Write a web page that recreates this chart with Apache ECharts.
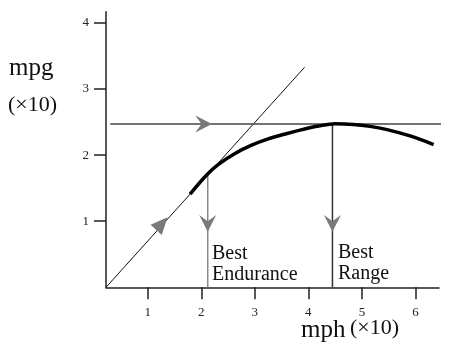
<!DOCTYPE html>
<html>
<head>
<meta charset="utf-8">
<script src="https://cdn.jsdelivr.net/npm/echarts@6/dist/echarts.min.js"></script>
<style>html,body{margin:0;padding:0;background:#fff;}#c{width:465px;height:345px;}</style>
</head>
<body>
<div id="c"></div>
<script>
// ---- data ----
const xTicks = [1, 2, 3, 4, 5, 6];
const yTicks = [1, 2, 3, 4];
const curveX = [1.79, 2.10, 2.32, 2.63, 2.94, 3.25, 3.57, 3.88, 4.19, 4.50, 4.84, 5.15, 5.47, 5.90, 6.34];
const curveY = [1.41, 1.70, 1.86, 2.025, 2.15, 2.245, 2.32, 2.385, 2.44, 2.475, 2.465, 2.435, 2.385, 2.29, 2.16];
const tangentX = [0.22, 3.93];
const tangentY = [0, 3.33];
const maxMpg = 2.47;
const maxLineX = [0.30, 6.93];
const enduranceX = 2.12;
const enduranceY = 1.72;
const rangeX = 4.45;
const downArrowX = [2.12, 4.45];
const downArrowY = [0.84, 0.84];
const rightArrowX = [2.20];
const upArrowX = [1.37];
const upArrowY = [1.06];

const FONT = '"Liberation Serif", "DejaVu Serif", serif';
const ARROW = '#7a7a7a';

const zip = (a, b) => a.map((v, i) => [v, b[i]]);

function arrowSeries(data, shape) {
  return {
    type: 'custom', silent: true, clip: false, z: 5,
    data: data,
    renderItem: function (params, api) {
      const p = api.coord([api.value(0), api.value(1)]);
      let pts;
      if (shape === 'along') {
        const a = api.coord([tangentX[0], tangentY[0]]);
        const b = api.coord([tangentX[1], tangentY[1]]);
        const L = Math.hypot(b[0] - a[0], b[1] - a[1]);
        const dx = (b[0] - a[0]) / L, dy = (b[1] - a[1]) / L;
        const len = 17, hw = 7.5;
        const bx = p[0] - dx * len, by = p[1] - dy * len;
        pts = [[p[0], p[1]], [bx - dy * hw, by + dx * hw], [bx + dy * hw, by - dx * hw]];
      } else if (shape === 'down') {
        pts = [[p[0], p[1]], [p[0] - 8.5, p[1] - 16.7], [p[0], p[1] - 10.5], [p[0] + 8.5, p[1] - 16.7]];
      } else {
        pts = [[p[0], p[1]], [p[0] - 16.7, p[1] - 8.5], [p[0] - 10.5, p[1]], [p[0] - 16.7, p[1] + 8.5]];
      }
      return { type: 'polygon', shape: { points: pts }, style: { fill: ARROW } };
    }
  };
}

const chart = echarts.init(document.getElementById('c'), null, { renderer: 'canvas' });
chart.setOption({
  animation: false,
  backgroundColor: '#fff',
  grid: { left: 106, right: 26, top: 11.7, bottom: 57.7, containLabel: false, outerBoundsMode: 'none' },
  xAxis: {
    type: 'value', min: 0.22, max: 6.44,
    axisLine: { show: true, lineStyle: { color: '#222', width: 1.5 } },
    axisTick: { show: true, customValues: xTicks, length: 12, lineStyle: { color: '#222', width: 1.5 } },
    axisLabel: { customValues: xTicks, margin: 19, color: '#222', fontFamily: FONT, fontSize: 13 },
    splitLine: { show: false }
  },
  yAxis: {
    type: 'value', min: 0, max: 4.17,
    axisLine: { show: true, lineStyle: { color: '#222', width: 1.5 } },
    axisTick: { show: true, customValues: yTicks, length: 12, lineStyle: { color: '#222', width: 1.5 } },
    axisLabel: { customValues: yTicks, margin: 17, color: '#222', fontFamily: FONT, fontSize: 13 },
    splitLine: { show: false }
  },
  series: [
    { type: 'line', data: zip(tangentX, tangentY), symbol: 'none', clip: false,
      lineStyle: { color: '#111', width: 1 } },
    { type: 'line', data: zip(maxLineX, [maxMpg, maxMpg]), symbol: 'none', clip: false,
      lineStyle: { color: '#444', width: 1.5 } },
    { type: 'line', data: [[enduranceX, enduranceY], [enduranceX, 0]], symbol: 'none',
      lineStyle: { color: '#888', width: 1.5 } },
    { type: 'line', data: [[rangeX, maxMpg], [rangeX, 0]], symbol: 'none',
      lineStyle: { color: '#333', width: 1.5 } },
    { type: 'line', data: zip(curveX, curveY), symbol: 'none', smooth: 0.35, z: 4,
      lineStyle: { color: '#000', width: 3.5 } },
    arrowSeries(zip(downArrowX, downArrowY), 'down'),
    arrowSeries(rightArrowX.map(x => [x, maxMpg]), 'right'),
    arrowSeries(zip(upArrowX, upArrowY), 'along')
  ],
  graphic: [
    { type: 'text', left: 9, top: 56, style: { text: 'mpg', font: '25px ' + FONT, fill: '#111' } },
    { type: 'text', left: 8, top: 94, style: { text: '(×10)', font: '22px ' + FONT, fill: '#111' } },
    { type: 'text', left: 301, top: 318, style: { text: 'mph', font: '25px ' + FONT, fill: '#111' } },
    { type: 'text', left: 350, top: 317, style: { text: '(×10)', font: '22px ' + FONT, fill: '#111' } },
    { type: 'text', left: 212, top: 244, style: { text: 'Best', font: '20px ' + FONT, fill: '#111' } },
    { type: 'text', left: 212, top: 265, style: { text: 'Endurance', font: '20px ' + FONT, fill: '#111' } },
    { type: 'text', left: 338, top: 243, style: { text: 'Best', font: '20px ' + FONT, fill: '#111' } },
    { type: 'text', left: 338, top: 264, style: { text: 'Range', font: '20px ' + FONT, fill: '#111' } }
  ]
});
</script>
</body>
</html>
